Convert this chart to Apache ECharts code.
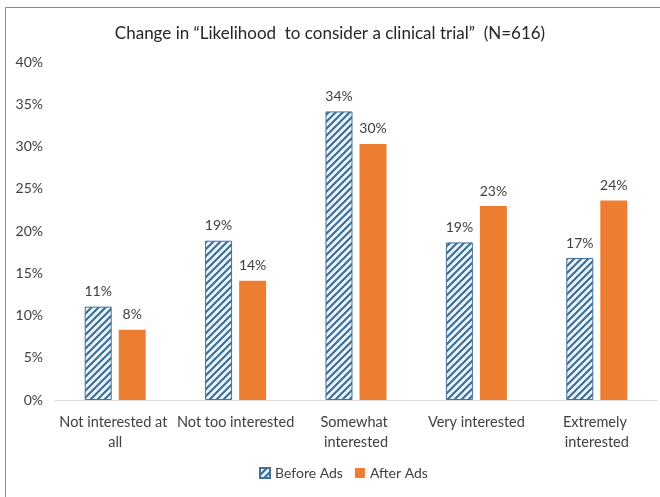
<!DOCTYPE html>
<html>
<head>
<meta charset="utf-8">
<script src="https://cdn.jsdelivr.net/npm/echarts@6/dist/echarts.min.js"></script>
<style>
  html, body { margin: 0; padding: 0; background: #fff; }
  #chart { width: 660px; height: 497px; position: absolute; left: 0; top: 0; }
  #frame { position: absolute; left: 5px; top: 7px; width: 700px; height: 560px;
           border: 1px solid #8c8c8c; pointer-events: none; }
</style>
</head>
<body>
<div id="chart"></div>
<div id="frame"></div>
<script>
const categories = ['Not interested at all', 'Not too interested', 'Somewhat interested', 'Very interested', 'Extremely interested'];
const beforeAds = [11.05, 18.85, 34.15, 18.65, 16.8];
const afterAds = [8.3, 14.1, 30.3, 22.95, 23.6];
const seriesNames = ['Before Ads', 'After Ads'];
const yTicks = { min: 0, max: 40, interval: 5 };

function hatch() {
  const s = 7;
  const c = document.createElement('canvas');
  c.width = s; c.height = s;
  const g = c.getContext('2d');
  g.fillStyle = '#eef6fb';
  g.fillRect(0, 0, s, s);
  g.strokeStyle = '#3d6f96';
  g.lineWidth = 2.2;
  g.beginPath();
  g.moveTo(-1, s + 1); g.lineTo(s + 1, -1);
  g.moveTo(-1, 1); g.lineTo(1, -1);
  g.moveTo(s - 1, s + 1); g.lineTo(s + 1, s - 1);
  g.stroke();
  return { image: c, repeat: 'repeat' };
}

const FONT = 'Lato, "Open Sans", sans-serif';
const chart = echarts.init(document.getElementById('chart'));
const labelCfg = {
  show: true, position: 'top', distance: 8,
  color: '#404040', fontSize: 14, fontFamily: FONT,
  formatter: p => Math.round(p.value) + '%'
};
chart.setOption({
  animation: false,
  textStyle: { fontFamily: FONT },
  title: {
    text: 'Change in \u201cLikelihood  to consider a clinical trial\u201d  (N=616)',
    left: 'center', top: 20,
    textStyle: { fontSize: 17, fontWeight: 'normal', color: '#262626', fontFamily: FONT }
  },
  legend: {
    bottom: 12, left: 254,
    itemWidth: 10, itemHeight: 10, itemGap: 12,
    icon: 'rect',
    textStyle: { fontSize: 14, color: '#404040', fontFamily: FONT },
    data: seriesNames
  },
  grid: { left: 55, right: 3, top: 62, bottom: 97, containLabel: false, outerBoundsMode: 'none' },
  xAxis: {
    type: 'category', data: categories,
    axisLine: { lineStyle: { color: '#d9d9d9', width: 1 } },
    axisTick: { show: false },
    axisLabel: {
      interval: 0, margin: 12, width: 122, overflow: 'break',
      fontSize: 14.5, lineHeight: 20, color: '#404040', fontFamily: FONT
    }
  },
  yAxis: {
    type: 'value', min: yTicks.min, max: yTicks.max, interval: yTicks.interval,
    axisLine: { show: false }, axisTick: { show: false }, splitLine: { show: false },
    axisLabel: { formatter: '{value}%', margin: 12, fontSize: 14, color: '#404040', fontFamily: FONT }
  },
  series: [
    {
      name: seriesNames[0], type: 'bar', data: beforeAds,
      barWidth: 27, barGap: '26%',
      itemStyle: { color: hatch(), borderColor: '#41719c', borderWidth: 1 },
      label: labelCfg
    },
    {
      name: seriesNames[1], type: 'bar', data: afterAds,
      barWidth: 27,
      itemStyle: { color: '#ed7d31' },
      label: labelCfg
    }
  ]
});
</script>
</body>
</html>
